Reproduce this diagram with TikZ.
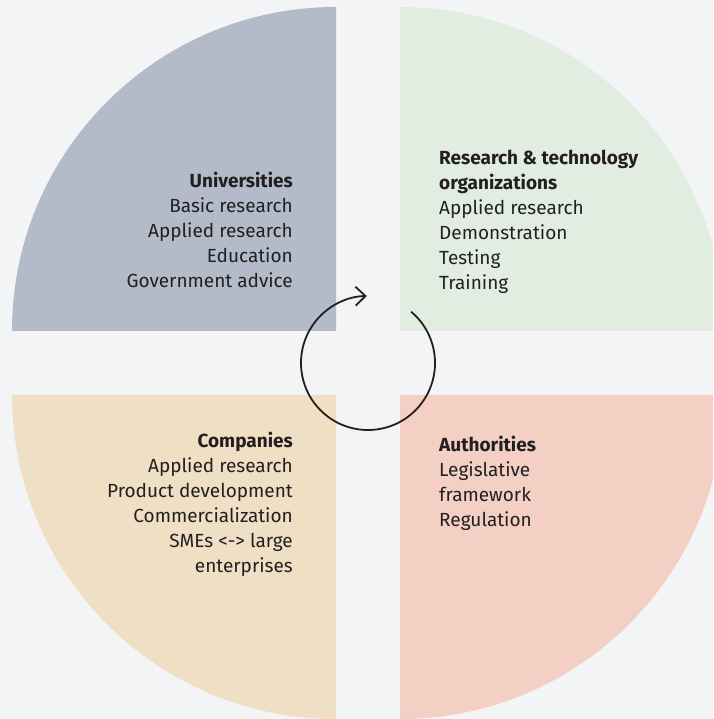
\documentclass[tikz,border=0pt]{standalone}
\usepackage{fontspec}
\setmainfont{Fira Sans}
\usetikzlibrary{arrows.meta,calc}
\definecolor{bg}{HTML}{F3F4F6}
\definecolor{qtl}{HTML}{B3BBC8}
\definecolor{qtr}{HTML}{E2EDE1}
\definecolor{qbl}{HTML}{EFDFC4}
\definecolor{qbr}{HTML}{F3CFC4}
\definecolor{ink}{HTML}{231F20}
\tikzset{
  lbl/.style={inner sep=0pt, text=ink, font=\fontsize{19}{25}\selectfont},
  lblr/.style={lbl, align=right, anchor=base east},
  lbll/.style={lbl, align=left, anchor=base west},
  cyc/.style={draw=ink, line width=1.8pt, -{Straight Barb[length=10pt,width=19pt,line width=1.8pt]}}
}
\begin{document}
\begin{tikzpicture}[x=1pt,y=1pt]
\useasboundingbox (0,0) rectangle (713,719);
\fill[bg] (0,0) rectangle (713,719);
\begin{scope}
\clip (0,0) rectangle (713,719);
\fill[qtl] (336,388) -- (12,388) arc[start angle=180, end angle=90, radius=324pt] -- cycle;
\fill[qtr] (400,388) -- (724,388) arc[start angle=0, end angle=90, radius=324pt] -- cycle;
\fill[qbl] (336,324) -- (12,324) arc[start angle=180, end angle=270, radius=324pt] -- cycle;
\fill[qbr] (400,324) -- (724,324) arc[start angle=0, end angle=-90, radius=324pt] -- cycle;
\end{scope}
\node[lblr] (uni) at (293,431) {\textbf{Universities}\\Basic research\\Applied research\\Education\\Government advice};
\node[lbll] (rto) at (439,429) {\textbf{Research \& technology}\\\textbf{organizations}\\Applied research\\Demonstration\\Testing\\Training};
\node[lblr] (comp) at (293,146) {\textbf{Companies}\\Applied research\\Product development\\Commercialization\\SMEs <-> large\\enterprises};
\node[lbll] (auth) at (439,192) {\textbf{Authorities}\\Legislative\\framework\\Regulation};
\coordinate (c) at (368,356);
\draw[cyc] ($(c)+(50:67)$) arc[start angle=50, end angle=-269, radius=67pt];
\end{tikzpicture}
\end{document}
